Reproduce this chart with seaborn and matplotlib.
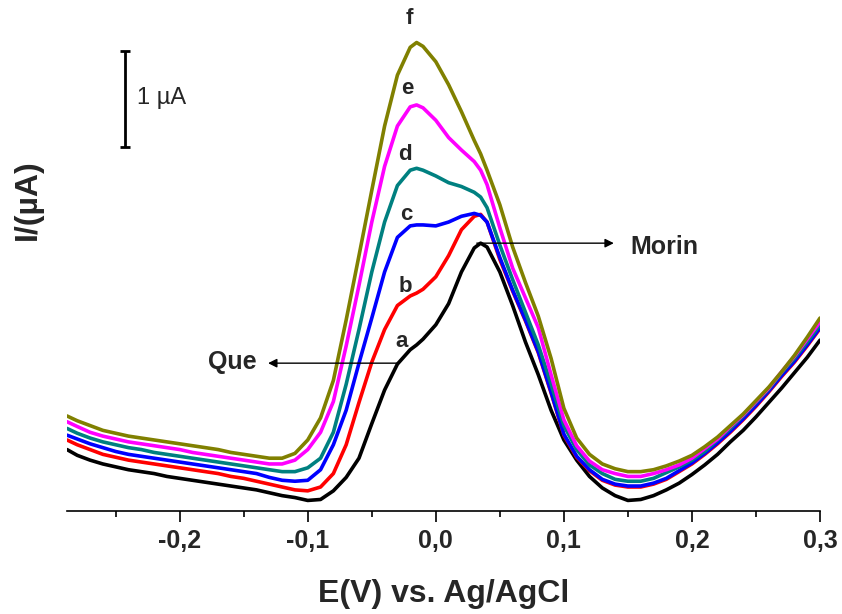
import matplotlib
matplotlib.use("Agg")
import matplotlib.pyplot as plt
import numpy as np
import pandas as pd
import seaborn as sns
from matplotlib.ticker import MultipleLocator, FuncFormatter

# Potential (V vs. Ag/AgCl)
potential = [-0.288, -0.28, -0.27, -0.26, -0.25, -0.24, -0.23, -0.22, -0.21, -0.20,
             -0.19, -0.18, -0.17, -0.16, -0.15, -0.14, -0.13, -0.12, -0.11, -0.10,
             -0.09, -0.08, -0.07, -0.06, -0.05, -0.04, -0.03, -0.02, -0.015, -0.01,
             0.00, 0.01, 0.02, 0.03, 0.035, 0.04, 0.05, 0.06, 0.07, 0.08,
             0.09, 0.10, 0.11, 0.12, 0.13, 0.14, 0.15, 0.16, 0.17, 0.18,
             0.19, 0.20, 0.21, 0.22, 0.23, 0.24, 0.25, 0.26, 0.27, 0.28,
             0.29, 0.30]

# Current (uA, offset baseline) for each scan
curve_a = [0.64, 0.58, 0.53, 0.49, 0.46, 0.43, 0.41, 0.39, 0.36, 0.34,
           0.32, 0.30, 0.28, 0.26, 0.24, 0.22, 0.19, 0.16, 0.14, 0.11,
           0.12, 0.21, 0.35, 0.55, 0.91, 1.26, 1.53, 1.68, 1.73, 1.79,
           1.94, 2.16, 2.49, 2.74, 2.79, 2.75, 2.49, 2.14, 1.76, 1.42,
           1.05, 0.74, 0.53, 0.36, 0.24, 0.16, 0.11, 0.12, 0.16, 0.22,
           0.29, 0.38, 0.48, 0.59, 0.72, 0.84, 0.98, 1.13, 1.28, 1.44,
           1.60, 1.78]
curve_b = [0.74, 0.69, 0.64, 0.59, 0.56, 0.53, 0.51, 0.49, 0.47, 0.45,
           0.43, 0.41, 0.39, 0.36, 0.34, 0.31, 0.28, 0.25, 0.22, 0.21,
           0.25, 0.39, 0.69, 1.13, 1.55, 1.89, 2.14, 2.24, 2.27, 2.31,
           2.44, 2.66, 2.93, 3.07, 3.09, 3.01, 2.62, 2.29, 1.98, 1.65,
           1.23, 0.79, 0.56, 0.42, 0.32, 0.27, 0.25, 0.25, 0.28, 0.33,
           0.41, 0.49, 0.59, 0.70, 0.82, 0.95, 1.09, 1.24, 1.40, 1.55,
           1.72, 1.90]
curve_c = [0.79, 0.75, 0.70, 0.66, 0.62, 0.59, 0.57, 0.55, 0.53, 0.51,
           0.49, 0.47, 0.45, 0.43, 0.41, 0.39, 0.35, 0.32, 0.31, 0.32,
           0.43, 0.69, 1.05, 1.54, 2.01, 2.49, 2.85, 2.97, 2.98, 2.98,
           2.97, 3.01, 3.07, 3.10, 3.08, 3.01, 2.64, 2.30, 1.99, 1.66,
           1.24, 0.80, 0.57, 0.43, 0.33, 0.28, 0.26, 0.26, 0.29, 0.34,
           0.42, 0.50, 0.60, 0.71, 0.83, 0.96, 1.10, 1.25, 1.41, 1.56,
           1.73, 1.91]
curve_d = [0.86, 0.81, 0.76, 0.72, 0.69, 0.66, 0.64, 0.61, 0.59, 0.57,
           0.55, 0.53, 0.51, 0.49, 0.47, 0.45, 0.43, 0.41, 0.41, 0.45,
           0.55, 0.82, 1.32, 1.89, 2.49, 3.01, 3.39, 3.55, 3.57, 3.55,
           3.49, 3.42, 3.38, 3.32, 3.27, 3.16, 2.77, 2.41, 2.07, 1.73,
           1.32, 0.89, 0.64, 0.48, 0.39, 0.33, 0.31, 0.31, 0.34, 0.40,
           0.46, 0.53, 0.62, 0.74, 0.86, 0.99, 1.13, 1.27, 1.44, 1.59,
           1.76, 1.94]
curve_e = [0.93, 0.88, 0.82, 0.78, 0.75, 0.72, 0.70, 0.68, 0.66, 0.64,
           0.61, 0.59, 0.57, 0.55, 0.53, 0.51, 0.49, 0.49, 0.53, 0.64,
           0.82, 1.14, 1.72, 2.35, 3.01, 3.59, 4.01, 4.21, 4.23, 4.20,
           4.07, 3.89, 3.76, 3.64, 3.55, 3.40, 2.95, 2.53, 2.22, 1.91,
           1.42, 0.95, 0.68, 0.52, 0.43, 0.39, 0.36, 0.36, 0.39, 0.43,
           0.48, 0.55, 0.65, 0.75, 0.88, 1.00, 1.14, 1.28, 1.45, 1.61,
           1.79, 1.97]
curve_f = [0.99, 0.94, 0.89, 0.84, 0.81, 0.78, 0.76, 0.74, 0.72, 0.70,
           0.68, 0.66, 0.64, 0.61, 0.59, 0.57, 0.55, 0.55, 0.60, 0.74,
           0.97, 1.36, 1.99, 2.66, 3.34, 4.01, 4.54, 4.83, 4.88, 4.84,
           4.68, 4.44, 4.16, 3.86, 3.72, 3.55, 3.19, 2.75, 2.38, 2.03,
           1.59, 1.07, 0.76, 0.59, 0.49, 0.44, 0.41, 0.41, 0.43, 0.47,
           0.52, 0.58, 0.67, 0.77, 0.89, 1.01, 1.15, 1.29, 1.45, 1.62,
           1.81, 2.01]

curve_names = ["a", "b", "c", "d", "e", "f"]
curve_colors = ["#000000", "#FF0000", "#0000FF", "#008080", "#FF00FF", "#808000"]
all_curves = [curve_a, curve_b, curve_c, curve_d, curve_e, curve_f]

x_ticks = [-0.2, -0.1, 0.0, 0.1, 0.2, 0.3]

df = pd.DataFrame({
    "E": potential * len(all_curves),
    "I": [v for c in all_curves for v in c],
    "curve": [n for n, c in zip(curve_names, all_curves) for _ in c],
})

sns.set_theme(style="white")
plt.rcParams["font.family"] = ["Liberation Sans", "DejaVu Sans"]

fig = plt.figure(figsize=(8.42, 6.14), dpi=100)
ax = fig.add_axes([67 / 842, 103 / 614, 753 / 842, 511 / 614])

sns.lineplot(data=df, x="E", y="I", hue="curve", hue_order=curve_names,
             palette=curve_colors, linewidth=2.6, legend=False, sort=False,
             estimator=None, ax=ax)
for line in ax.get_lines():
    line.set_solid_joinstyle("round")
    line.set_solid_capstyle("round")

ax.set_xlim(-0.288, 0.30)
ax.set_ylim(0, 5.323)

for side in ["left", "top", "right"]:
    ax.spines[side].set_visible(False)
ax.spines["bottom"].set_linewidth(1.2)
ax.spines["bottom"].set_color("black")

ax.set_xticks(x_ticks)
ax.xaxis.set_minor_locator(MultipleLocator(0.05))
ax.xaxis.set_major_formatter(FuncFormatter(
    lambda v, _: ("%.1f" % (0.0 if abs(v) < 1e-9 else v)).replace(".", ",")))
ax.tick_params(axis="x", which="major", direction="out", length=8, width=1.2,
               color="black", labelsize=18, pad=5, bottom=True)
ax.tick_params(axis="x", which="minor", direction="out", length=4.5, width=1.2,
               color="black", bottom=True)
for lbl in ax.get_xticklabels():
    lbl.set_fontweight("bold")
ax.set_yticks([])

ax.set_xlabel("E(V) vs. Ag/AgCl", fontsize=23, fontweight="bold", labelpad=19)
ax.set_ylabel("I/(\u00b5A)", fontsize=23, fontweight="bold")
ax.yaxis.set_label_coords(-0.032, 0.609)

# curve letters
label_pos = {"a": (-0.027, 1.77), "b": (-0.024, 2.34), "c": (-0.023, 3.09),
             "d": (-0.024, 3.71), "e": (-0.022, 4.40), "f": (-0.021, 5.13)}
for n in curve_names:
    x, y = label_pos[n]
    ax.text(x, y, n, fontsize=16, fontweight="bold", ha="center", va="center",
            clip_on=False)

# peak assignments
arrow = dict(arrowstyle="-|>", color="black", lw=1.0, mutation_scale=13,
             shrinkA=0, shrinkB=0)
ax.annotate("", xy=(-0.131, 1.54), xytext=(-0.030, 1.54), arrowprops=arrow)
ax.text(-0.159, 1.55, "Que", fontsize=18, fontweight="bold",
        ha="center", va="center")
ax.annotate("", xy=(0.139, 2.79), xytext=(0.032, 2.79), arrowprops=arrow)
ax.text(0.152, 2.75, "Morin", fontsize=18, fontweight="bold",
        ha="left", va="center")

# 1 uA scale bar
ax.errorbar([-0.243], [4.29], yerr=[0.5], fmt="none", ecolor="black",
            elinewidth=2.0, capsize=3.5, capthick=2.0)
ax.text(-0.2336, 4.30, "1 \u00b5A", fontsize=17, ha="left", va="center")

fig.savefig("out.png", dpi=100)
